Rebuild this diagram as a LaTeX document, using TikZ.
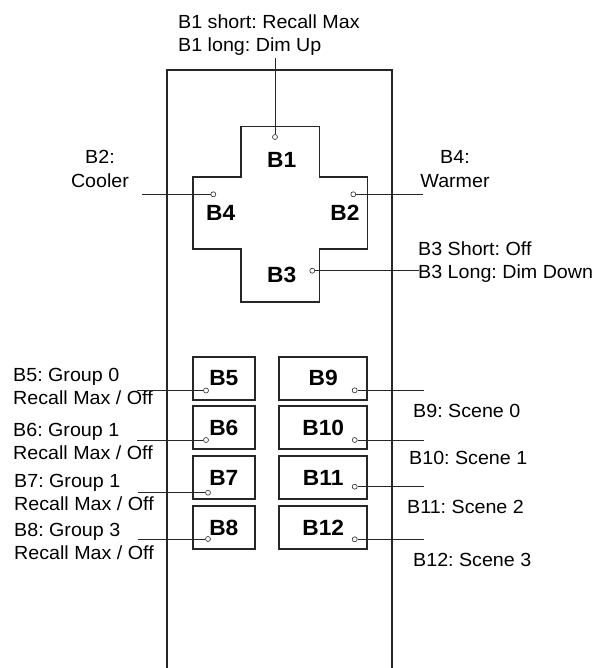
\documentclass[tikz,border=0pt]{standalone}
\usepackage{fontspec}
\setmainfont{Liberation Sans}[FakeStretch=1.035]
\usetikzlibrary{positioning}
\frenchspacing

\begin{document}
\begin{tikzpicture}[
        x=1pt, y=-1pt,
        btn/.style={draw=black!85, line width=1.6pt, minimum width=62pt, minimum height=43pt, inner sep=0pt, font=\fontsize{22}{26}\selectfont\bfseries},
        widebtn/.style={btn, minimum width=88pt},
        keylbl/.style={inner sep=0pt, font=\fontsize{22}{26}\selectfont\bfseries},
        pin/.style={circle, draw=black!85, fill=white, line width=0.6pt, minimum size=5pt, inner sep=0pt},
        note/.style={inner sep=0pt, align=left, font=\fontsize{19}{23.3}\selectfont},
        lead/.style={draw=black!85, line width=0.8pt}
    ]
        \useasboundingbox (0,0) rectangle (595,668);

        % Remote body
        \draw[black!85, line width=1.6pt] (167,668) -- (167,70) -- (392,70) -- (392,668);

        % Cross pad
        \draw[black!85, line width=1.6pt] (240.7,126.7) -- (319.3,126.7) -- (319.3,177) -- (367.3,177)
            -- (367.3,249) -- (319.3,249) -- (319.3,302) -- (240.7,302) -- (240.7,249)
            -- (192.7,249) -- (192.7,177) -- (240.7,177) -- cycle;

        % Cross pad keys
        \node[keylbl] (k1) at (281.7,160) {B1};
        \node[keylbl] (k4) at (220.7,213) {B4};
        \node[keylbl] (k2) at (345,213) {B2};
        \node[keylbl] (k3) at (281.7,275) {B3};

        % Buttons, left column
        \node[btn] (b5) at (223.8,378.3) {B5};
        \node[btn] (b6) at (223.8,427.5) {B6};
        \node[btn] (b7) at (223.8,477.6) {B7};
        \node[btn] (b8) at (223.8,527.5) {B8};

        % Buttons, right column
        \node[widebtn] (b9) at (323.2,378.3) {B9};
        \node[widebtn] (b10) at (323.2,427.5) {B10};
        \node[widebtn] (b11) at (323.2,477.6) {B11};
        \node[widebtn] (b12) at (323.2,527.5) {B12};

        % Descriptions
        \node[note, anchor=north west] (n1) at (178,14.5) {B1 short: Recall Max\\B1 long: Dim Up};
        \node[note, anchor=north, align=center] (n4) at (100,150.5) {B2:\\Cooler};
        \node[note, anchor=north, align=center] (n2) at (455,150.5) {B4:\\Warmer};
        \node[note, anchor=north west] (n3) at (418,241.5) {B3 Short: Off\\B3 Long: Dim Down};
        \node[note, anchor=north west] (n5) at (13,368) {B5: Group 0\\Recall Max / Off};
        \node[note, anchor=north west] (n6) at (13,423) {B6: Group 1\\Recall Max / Off};
        \node[note, anchor=north west] (n7) at (14,474) {B7: Group 1\\Recall Max / Off};
        \node[note, anchor=north west] (n8) at (14,523) {B8: Group 3\\Recall Max / Off};
        \node[note, anchor=north west] (n9) at (413,404) {B9: Scene 0};
        \node[note, anchor=north west] (n10) at (409,451) {B10: Scene 1};
        \node[note, anchor=north west] (n11) at (407,500) {B11: Scene 2};
        \node[note, anchor=north west] (n12) at (413,553) {B12: Scene 3};

        % Free ends of the leaders
        \coordinate (e1) at (275,58);
        \coordinate (e4) at (142,194.3);
        \coordinate (e2) at (423,194.3);
        \coordinate (e3) at (419,270.7);
        \coordinate (e5) at (137,390.5);
        \coordinate (e6) at (137,440);
        \coordinate (e7) at (138,492.7);
        \coordinate (e8) at (138,539);
        \coordinate (e9) at (424,390.3);
        \coordinate (e10) at (424,440);
        \coordinate (e11) at (424,486.7);
        \coordinate (e12) at (424,539.3);

        % Contact points
        \node[pin] (p1) at (275,137) {};
        \node[pin] (p4) at (213.3,194.3) {};
        \node[pin] (p2) at (353.3,194.3) {};
        \node[pin] (p3) at (312.3,270.7) {};
        \node[pin] (p5) at (206,390.5) {};
        \node[pin] (p6) at (206,440) {};
        \node[pin] (p7) at (208,492.7) {};
        \node[pin] (p8) at (208,539) {};
        \node[pin] (p9) at (354.7,390.3) {};
        \node[pin] (p10) at (354.7,440) {};
        \node[pin] (p11) at (354.7,486.7) {};
        \node[pin] (p12) at (354.7,539.3) {};

        % Leaders
        \draw[lead] (e1) -- (p1);
        \draw[lead] (e4) -- (p4);
        \draw[lead] (p2) -- (e2);
        \draw[lead] (p3) -- (e3);
        \draw[lead] (e5) -- (p5);
        \draw[lead] (e6) -- (p6);
        \draw[lead] (e7) -- (p7);
        \draw[lead] (e8) -- (p8);
        \draw[lead] (p9) -- (e9);
        \draw[lead] (p10) -- (e10);
        \draw[lead] (p11) -- (e11);
        \draw[lead] (p12) -- (e12);

    \end{tikzpicture}
\end{document}
